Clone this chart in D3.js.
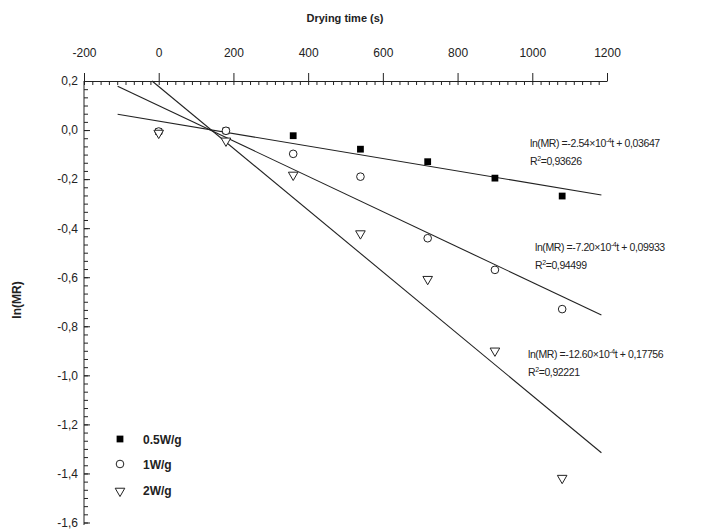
<!DOCTYPE html>
<html><head><meta charset="utf-8">
<script src="https://cdn.jsdelivr.net/npm/d3@7"></script>
<style>
body{margin:0;background:#fff;}
svg{display:block;font-family:"Liberation Sans",Arial,sans-serif;}
</style></head>
<body>
<svg id="chart" width="703" height="531"></svg>
<script>
// ---- data ----
const times = [0, 180, 360, 540, 720, 900, 1080];
const series05 = [-0.006, -0.003, -0.023, -0.078, -0.129, -0.196, -0.269];
const series1 = [-0.006, -0.003, -0.097, -0.19, -0.441, -0.57, -0.73];
const series2 = [-0.008, -0.04, -0.179, -0.418, -0.604, -0.896, -1.415];
const seriesNames = ["0.5W/g", "1W/g", "2W/g"];
const fitSlopes = [-2.54e-4, -7.20e-4, -12.60e-4];
const fitIntercepts = [0.03647, 0.09933, 0.17756];
const fitLabels = ["ln(MR) =-2.54×10", "ln(MR) =-7.20×10", "ln(MR) =-12.60×10"];
const fitTails = ["t + 0,03647", "t + 0,09933", "t + 0,17756"];
const r2Labels = ["0,93626", "0,94499", "0,92221"];
const xTicks = [-200, 0, 200, 400, 600, 800, 1000, 1200];
const yTicks = [0.2, 0.0, -0.2, -0.4, -0.6, -0.8, -1.0, -1.2, -1.4, -1.6];
const fitRange = [-110, 1185];

const svg = d3.select("#chart");
const x = d3.scaleLinear().domain([-200, 1200]).range([84, 607]);
const y = d3.scaleLinear().domain([-1.6, 0.2]).range([522.5, 81]);

// top axis
const xfmt = d => d3.format("d")(d).replace("−", "-");
const gx = svg.append("g").attr("transform", `translate(0,${y(0.2)})`);
gx.call(d3.axisTop(x).tickValues(xTicks).tickSize(8).tickSizeOuter(0).tickFormat(xfmt));
const xMinor = d3.range(0, 63).map(i => -200 + i * 200 / 9);
const gxm = svg.append("g").attr("transform", `translate(0,${y(0.2)})`);
gxm.call(d3.axisTop(x).tickValues(xMinor).tickSize(-4).tickSizeOuter(0).tickFormat(""));
gxm.select(".domain").remove();
gx.selectAll("text").attr("font-size", 12).attr("fill", "#222").attr("y", -24).attr("dy", 0)
  .style("font-family", "Liberation Sans, Arial, sans-serif");
gx.selectAll("line,path").attr("stroke", "#222");
gxm.selectAll("line").attr("stroke", "#222");

// left axis
const fmt = d => d3.format(".1f")(d).replace(".", ",").replace("−", "-");
const gy = svg.append("g").attr("transform", `translate(${x(-200)},0)`);
gy.call(d3.axisLeft(y).tickValues(yTicks).tickSize(-6).tickSizeOuter(0).tickFormat(fmt));
gy.select(".domain").attr("d", `M0,${y(0.2)}V${y(-1.6) + 2.5}`);
gy.selectAll("text").attr("x", -6).attr("font-size", 12).attr("fill", "#222")
  .style("font-family", "Liberation Sans, Arial, sans-serif");
gy.selectAll("line,path").attr("stroke", "#222");
const yMinor = d3.range(0, 55).map(i => 0.2 - i * 0.2 / 6);
const gym = svg.append("g").attr("transform", `translate(${x(-200)},0)`);
gym.call(d3.axisLeft(y).tickValues(yMinor).tickSize(-4).tickFormat(""));
gym.select(".domain").remove();
gym.selectAll("line").attr("stroke", "#222");

// axis titles
svg.append("text").attr("x", 345).attr("y", 22).attr("text-anchor", "middle")
  .attr("font-size", 11).attr("font-weight", "bold").attr("fill", "#222").text("Drying time (s)");
svg.append("text").attr("transform", "translate(21,300) rotate(-90)").attr("text-anchor", "middle")
  .attr("font-size", 12).attr("font-weight", "bold").attr("fill", "#222").text("ln(MR)");

// fit lines
fitSlopes.forEach((m, i) => {
  const b = fitIntercepts[i];
  let t0 = fitRange[0];
  if (m * t0 + b > 0.2) t0 = (0.2 - b) / m;
  const t1 = fitRange[1];
  svg.append("line").attr("x1", x(t0)).attr("y1", y(m * t0 + b))
    .attr("x2", x(t1)).attr("y2", y(m * t1 + b))
    .attr("stroke", "#222").attr("stroke-width", 1.1);
});

// markers
const allSeries = [series05, series1, series2];
const sq = d3.symbol().type(d3.symbolSquare).size(46);
const ci = d3.symbol().type(d3.symbolCircle).size(46);
const tri = d3.symbol().type(d3.symbolTriangle).size(40);
function drawMarker(g, k, cx, cy) {
  if (k === 0) {
    g.append("path").attr("d", sq()).attr("transform", `translate(${cx},${cy})`).attr("fill", "#000");
  } else if (k === 1) {
    g.append("path").attr("d", ci()).attr("transform", `translate(${cx},${cy})`)
      .attr("fill", "#fff").attr("stroke", "#222").attr("stroke-width", 1);
  } else {
    g.append("path").attr("d", tri()).attr("transform", `translate(${cx},${cy + 1}) rotate(180)`)
      .attr("fill", "#fff").attr("stroke", "#222").attr("stroke-width", 1);
  }
}
const gm = svg.append("g");
allSeries.forEach((s, k) => {
  s.forEach((v, i) => drawMarker(gm, k, x(times[i]), y(v)));
});

// annotations
const annX = [530, 535, 528];
const annY = [147, 251, 358];
fitLabels.forEach((lab, i) => {
  const t = svg.append("text").attr("x", annX[i]).attr("y", annY[i])
    .attr("font-size", 10.5).attr("fill", "#222").attr("letter-spacing", -0.4);
  t.append("tspan").text(lab);
  t.append("tspan").attr("dy", -4).attr("font-size", 7).text("-4");
  t.append("tspan").attr("dy", 4).text(fitTails[i]);
  const r = svg.append("text").attr("x", annX[i]).attr("y", annY[i] + 18)
    .attr("font-size", 10.5).attr("fill", "#222").attr("letter-spacing", -0.4);
  r.append("tspan").text("R");
  r.append("tspan").attr("dy", -4).attr("font-size", 7).text("2");
  r.append("tspan").attr("dy", 4).text("=" + r2Labels[i]);
});

// legend
const legY = [439, 464, 490];
seriesNames.forEach((n, k) => {
  drawMarker(svg, k, 120, legY[k]);
  svg.append("text").attr("x", 143).attr("y", legY[k] + 4.5).attr("font-size", 12)
    .attr("font-weight", "bold").attr("fill", "#222").text(n);
});
</script>
</body></html>
